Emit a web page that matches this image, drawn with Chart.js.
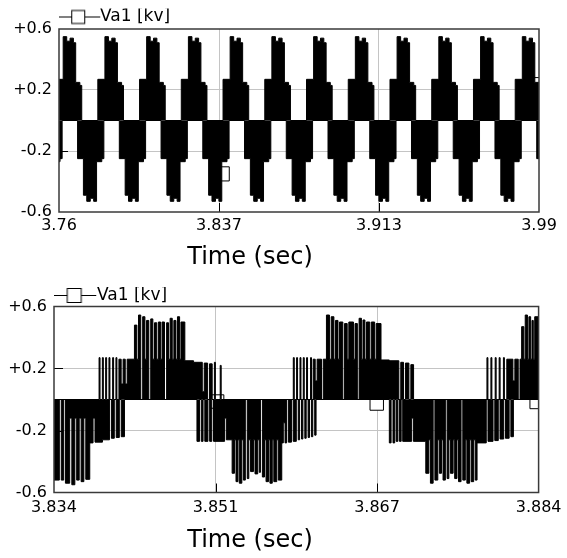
<!DOCTYPE html>
<html><head><meta charset="utf-8">
<script src="https://cdn.jsdelivr.net/npm/chart.js@4/dist/chart.umd.min.js"></script>
<style>
html,body{margin:0;padding:0;background:#fff;}
#w{position:relative;width:567px;height:558px;overflow:hidden;}
.c{position:absolute;left:0;}
</style></head><body>
<div id="w">
<div class="c" style="top:0;width:567px;height:275px"><canvas id="c1" width="567" height="275"></canvas></div>
<div class="c" style="top:275px;width:567px;height:283px"><canvas id="c2" width="567" height="283"></canvas></div>
</div>
<script>
// ---------- data ----------
const seriesName = 'Va1 [kv]';
const axisTitle = 'Time (sec)';
const yTicks = [-0.6, -0.2, 0.2, 0.6];
const yTickLabels = ['-0.6', '-0.2', '+0.2', '+0.6'];

// top panel: 3.76 .. 3.99 s
const topXTicks = [3.76, 3.83667, 3.91333, 3.99];
const topXTickLabels = ['3.76', '3.837', '3.913', '3.99'];
// upper envelope of the dense PWM pulses [t, kV]
const topUpper = [
[3.7500,0],
[3.7586,0.27],[3.7620,0.55],[3.7637,0.52],[3.7653,0.54],[3.7669,0.51],[3.7680,0.25],[3.7700,0.23],[3.7709,0],
[3.7786,0.27],[3.7820,0.55],[3.7837,0.52],[3.7853,0.54],[3.7869,0.51],[3.7880,0.25],[3.7900,0.23],[3.7909,0],
[3.7986,0.27],[3.8020,0.55],[3.8037,0.52],[3.8053,0.54],[3.8069,0.51],[3.8080,0.25],[3.8100,0.23],[3.8109,0],
[3.8186,0.27],[3.8220,0.55],[3.8237,0.52],[3.8253,0.54],[3.8269,0.51],[3.8280,0.25],[3.8300,0.23],[3.8309,0],
[3.8386,0.27],[3.8420,0.55],[3.8437,0.52],[3.8453,0.54],[3.8469,0.51],[3.8480,0.25],[3.8500,0.23],[3.8509,0],
[3.8586,0.27],[3.8620,0.55],[3.8637,0.52],[3.8653,0.54],[3.8669,0.51],[3.8680,0.25],[3.8700,0.23],[3.8709,0],
[3.8786,0.27],[3.8820,0.55],[3.8837,0.52],[3.8853,0.54],[3.8869,0.51],[3.8880,0.25],[3.8900,0.23],[3.8909,0],
[3.8986,0.27],[3.9020,0.55],[3.9037,0.52],[3.9053,0.54],[3.9069,0.51],[3.9080,0.25],[3.9100,0.23],[3.9109,0],
[3.9186,0.27],[3.9220,0.55],[3.9237,0.52],[3.9253,0.54],[3.9269,0.51],[3.9280,0.25],[3.9300,0.23],[3.9309,0],
[3.9386,0.27],[3.9420,0.55],[3.9437,0.52],[3.9453,0.54],[3.9469,0.51],[3.9480,0.25],[3.9500,0.23],[3.9509,0],
[3.9586,0.27],[3.9620,0.55],[3.9637,0.52],[3.9653,0.54],[3.9669,0.51],[3.9680,0.25],[3.9700,0.23],[3.9709,0],
[3.9786,0.27],[3.9820,0.55],[3.9837,0.52],[3.9853,0.54],[3.9869,0.51],[3.9880,0.25],[3.9900,0.23],[3.9909,0]
];
// lower envelope [t, kV]
const topLower = [
[3.7489,-0.25],[3.7517,-0.49],[3.7533,-0.53],[3.7550,-0.51],[3.7566,-0.53],[3.7580,-0.27],[3.7605,-0.25],[3.7615,0],
[3.7689,-0.25],[3.7717,-0.49],[3.7733,-0.53],[3.7750,-0.51],[3.7766,-0.53],[3.7780,-0.27],[3.7805,-0.25],[3.7815,0],
[3.7889,-0.25],[3.7917,-0.49],[3.7933,-0.53],[3.7950,-0.51],[3.7966,-0.53],[3.7980,-0.27],[3.8005,-0.25],[3.8015,0],
[3.8089,-0.25],[3.8117,-0.49],[3.8133,-0.53],[3.8150,-0.51],[3.8166,-0.53],[3.8180,-0.27],[3.8205,-0.25],[3.8215,0],
[3.8289,-0.25],[3.8317,-0.49],[3.8333,-0.53],[3.8350,-0.51],[3.8366,-0.53],[3.8380,-0.27],[3.8405,-0.25],[3.8415,0],
[3.8489,-0.25],[3.8517,-0.49],[3.8533,-0.53],[3.8550,-0.51],[3.8566,-0.53],[3.8580,-0.27],[3.8605,-0.25],[3.8615,0],
[3.8689,-0.25],[3.8717,-0.49],[3.8733,-0.53],[3.8750,-0.51],[3.8766,-0.53],[3.8780,-0.27],[3.8805,-0.25],[3.8815,0],
[3.8889,-0.25],[3.8917,-0.49],[3.8933,-0.53],[3.8950,-0.51],[3.8966,-0.53],[3.8980,-0.27],[3.9005,-0.25],[3.9015,0],
[3.9089,-0.25],[3.9117,-0.49],[3.9133,-0.53],[3.9150,-0.51],[3.9166,-0.53],[3.9180,-0.27],[3.9205,-0.25],[3.9215,0],
[3.9289,-0.25],[3.9317,-0.49],[3.9333,-0.53],[3.9350,-0.51],[3.9366,-0.53],[3.9380,-0.27],[3.9405,-0.25],[3.9415,0],
[3.9489,-0.25],[3.9517,-0.49],[3.9533,-0.53],[3.9550,-0.51],[3.9566,-0.53],[3.9580,-0.27],[3.9605,-0.25],[3.9615,0],
[3.9689,-0.25],[3.9717,-0.49],[3.9733,-0.53],[3.9750,-0.51],[3.9766,-0.53],[3.9780,-0.27],[3.9805,-0.25],[3.9815,0],
[3.9889,-0.25],[3.9917,-0.49]
];
const topMarkers = [[3.8382,-0.35],[3.9895,0.235]];

// bottom panel: 3.834 .. 3.884 s
const botXTicks = [3.834, 3.85067, 3.86733, 3.884];
const botXTickLabels = ['3.834', '3.851', '3.867', '3.884'];
// positive pulses [t, kV] (value holds until next t)
const botPos = [
[3.8330,0],
[3.83865,0.27],[3.83875,0],[3.83899,0.27],[3.83909,0],[3.83933,0.27],[3.83943,0],
[3.83967,0.27],[3.83977,0],[3.84005,0.27],[3.84015,0],[3.84039,0.27],[3.84049,0],
[3.84070,0.26],[3.84093,0.10],[3.84113,0.26],[3.84135,0.10],[3.84155,0.26],
[3.84230,0.48],[3.84255,0.26],[3.84272,0.545],[3.84295,0],[3.84315,0.534],[3.84338,0.26],
[3.84355,0.51],[3.84378,0],[3.84398,0.52],[3.84420,0.26],[3.84437,0.495],[3.84460,0.26],
[3.84477,0.50],[3.84500,0.26],[3.84515,0.50],[3.84540,0],[3.84562,0.495],[3.84582,0.26],
[3.84598,0.524],[3.84620,0.26],[3.84637,0.51],[3.84658,0.26],[3.84674,0.534],[3.84696,0.26],
[3.84710,0.50],[3.84750,0.25],[3.84840,0.24],[3.84930,0.05],[3.84950,0.235],
[3.84985,0],[3.85005,0.23],[3.85032,0],
[3.85055,0.24],[3.85065,0],[3.85115,0.22],[3.85125,0],
[3.85869,0.27],[3.85879,0],[3.85903,0.27],[3.85913,0],[3.85938,0.27],[3.85948,0],
[3.85972,0.27],[3.85982,0],[3.86006,0.27],[3.86016,0],[3.86047,0.27],[3.86057,0],
[3.86074,0.26],[3.86095,0.12],[3.86115,0.26],[3.86160,0],[3.86178,0.26],
[3.86211,0.545],[3.86242,0.26],[3.86260,0.534],[3.86288,0.26],[3.86304,0.51],[3.86330,0.26],
[3.86346,0.50],[3.86380,0],[3.86398,0.49],[3.86425,0.26],[3.86442,0.50],[3.86490,0.26],
[3.86506,0.49],[3.86530,0],[3.86548,0.524],[3.86572,0.26],[3.86588,0.513],[3.86608,0.26],
[3.86624,0.50],[3.86658,0.26],[3.86674,0.50],[3.86708,0.26],[3.86724,0.49],
[3.86774,0.255],[3.86860,0.25],[3.86958,0],[3.86978,0.24],[3.87006,0],[3.87026,0.235],
[3.87062,0],[3.87082,0.225],[3.87110,0],
[3.87867,0.27],[3.87877,0],[3.87908,0.27],[3.87918,0],[3.87952,0.27],[3.87962,0],
[3.87993,0.27],[3.88003,0],[3.88037,0.27],[3.88047,0],
[3.88072,0.26],[3.88135,0.12],[3.88155,0.26],[3.88190,0],[3.88208,0.26],
[3.88225,0.47],[3.88248,0.26],[3.88262,0.545],[3.88285,0.26],[3.88300,0.534],[3.88318,0.26],
[3.88332,0.51],[3.88345,0.26],[3.88360,0.534],[3.88420,0.53]
];
// negative pulses [t, kV]
const botNeg = [
[3.8330,-0.52],
[3.83455,0],[3.83475,-0.52],[3.83500,0],[3.83518,-0.54],[3.83562,-0.12],[3.83584,-0.55],
[3.83615,-0.12],[3.83634,-0.52],[3.83660,-0.12],[3.83680,-0.53],[3.83708,-0.12],[3.83728,-0.515],
[3.83769,-0.28],[3.83803,-0.12],[3.83823,-0.275],[3.83900,-0.26],
[3.83972,0],[3.83992,-0.25],[3.84022,0],[3.84042,-0.245],[3.84074,0],[3.84094,-0.24],[3.84127,0],
[3.84875,-0.27],[3.84902,0],[3.84920,-0.27],[3.84938,0],[3.84956,-0.27],[3.84988,0],[3.85006,-0.27],
[3.85028,0],[3.85046,-0.27],[3.85160,-0.12],[3.85178,-0.26],
[3.85238,-0.476],[3.85262,-0.26],[3.85278,-0.53],[3.85298,-0.26],[3.85312,-0.54],[3.85338,-0.26],
[3.85354,-0.52],[3.85374,0],[3.85394,-0.51],[3.85410,-0.26],[3.85428,-0.465],[3.85458,-0.26],
[3.85474,-0.48],[3.85502,-0.26],[3.85518,-0.47],[3.85530,0],[3.85550,-0.50],[3.85572,-0.26],
[3.85588,-0.53],[3.85613,-0.26],[3.85628,-0.54],[3.85652,-0.26],[3.85668,-0.53],[3.85698,-0.26],
[3.85714,-0.52],[3.85750,-0.28],[3.85766,-0.15],[3.85784,-0.28],[3.85800,0],[3.85818,-0.275],
[3.85850,0],[3.85868,-0.27],[3.85900,0],[3.85920,-0.26],[3.85934,0],[3.85954,-0.255],
[3.85968,0],[3.85988,-0.25],[3.86002,0],[3.86022,-0.245],[3.86036,0],[3.86056,-0.24],
[3.86070,0],[3.86090,-0.23],[3.86104,0],
[3.86860,-0.28],[3.86878,0],[3.86898,-0.28],[3.86915,0],[3.86930,-0.27],[3.86948,0],
[3.86964,-0.27],[3.86982,0],[3.86998,-0.27],[3.87090,-0.12],[3.87108,-0.27],
[3.87236,-0.476],[3.87268,-0.26],[3.87284,-0.54],[3.87312,0],[3.87330,-0.52],[3.87360,-0.26],
[3.87376,-0.476],[3.87398,-0.26],[3.87414,-0.52],[3.87438,0],[3.87456,-0.51],[3.87474,-0.26],
[3.87490,-0.476],[3.87518,-0.26],[3.87534,-0.51],[3.87558,-0.26],[3.87574,-0.53],[3.87600,0],
[3.87618,-0.52],[3.87644,-0.26],[3.87660,-0.54],[3.87688,-0.26],[3.87704,-0.53],[3.87730,-0.26],
[3.87746,-0.52],[3.87765,-0.28],[3.87860,0],[3.87878,-0.27],[3.87930,0],[3.87948,-0.265],
[3.87984,0],[3.88002,-0.255],[3.88040,0],[3.88058,-0.25],[3.88096,0],[3.88114,-0.24],
[3.88140,0],[3.8850,0]
];
const botMarkers = [[3.85083,-0.013],[3.8673,-0.026],[3.8838,-0.016]];

// ---------- rendering ----------
Chart.defaults.font.family = "'DejaVu Sans', sans-serif";
Chart.defaults.color = '#000';

function toXY(arr){ return arr.map(p => ({x: p[0], y: p[1]})); }

function legendIcon(side){
  const c = document.createElement('canvas');
  c.width = 52; c.height = 17;
  const g = c.getContext('2d');
  g.strokeStyle = '#000'; g.lineWidth = 1;
  g.beginPath(); g.moveTo(7, 8.5); g.lineTo(51, 8.5); g.stroke();
  g.fillStyle = '#fff';
  const x0 = 29 - side / 2, y0 = 8.5 - side / 2;
  g.fillRect(x0, y0, side, side);
  g.strokeRect(x0, y0, side, side);
  return c;
}

const framePlugin = {
  id: 'frame',
  afterDatasetsDraw(chart) {
    const {ctx, chartArea: a, scales} = chart;
    ctx.save();
    ctx.strokeStyle = '#000'; ctx.lineWidth = 1;
    ctx.beginPath();
    const xs = scales.x, ys = scales.y;
    xs.ticks.forEach((t, i) => {
      if (i === 0 || i === xs.ticks.length - 1) return;
      const px = Math.round(xs.getPixelForValue(t.value)) + 0.5;
      ctx.moveTo(px, a.bottom); ctx.lineTo(px, a.bottom - 9);
    });
    ys.ticks.forEach((t, i) => {
      if (i === 0 || i === ys.ticks.length - 1) return;
      const py = Math.round(ys.getPixelForValue(t.value)) + 0.5;
      ctx.moveTo(a.left, py); ctx.lineTo(a.left + 9, py);
    });
    ctx.stroke();
    ctx.strokeStyle = '#3a3a3a'; ctx.lineWidth = 1.5;
    ctx.strokeRect(a.left, a.top, a.right - a.left, a.bottom - a.top);
    ctx.restore();
  }
};
const captionPlugin = {
  id: 'caption',
  afterDraw(chart, args, o) {
    const {ctx, chartArea: a} = chart;
    ctx.save();
    ctx.font = "24px 'DejaVu Sans', sans-serif";
    ctx.fillStyle = '#000'; ctx.textAlign = 'center'; ctx.textBaseline = 'middle';
    ctx.fillText(o.text, a.left + o.dx, a.bottom + o.dy);
    ctx.restore();
  }
};
const legendShiftPlugin = {
  id: 'legendShift',
  afterLayout(chart, args, o) {
    const lg = chart.legend;
    if (lg) { lg.top += o.shift; lg.bottom += o.shift; }
  }
};

function makeChart(id, g) {
  const icon = legendIcon(g.iconSide);
  const nx = g.xTicks.length, ny = yTicks.length;
  return new Chart(document.getElementById(id), {
    type: 'line',
    data: {
      datasets: [
        { label: seriesName, data: toXY(g.upper), stepped: true, fill: 'origin',
          borderColor: '#000', backgroundColor: '#000', borderWidth: 1, pointRadius: 0 },
        { label: seriesName + ' (-)', data: toXY(g.lower), stepped: true, fill: 'origin',
          borderColor: '#000', backgroundColor: '#000', borderWidth: 1, pointRadius: 0 },
        { label: 'markers', data: toXY(g.markers), showLine: false, pointStyle: 'rect',
          pointRadius: g.mr, pointBorderColor: '#000', pointBackgroundColor: '#fff',
          pointBorderWidth: 1, clip: 0 }
      ]
    },
    options: {
      responsive: false, animation: false, events: [],
      layout: { padding: { left: 0, right: 567 - g.right, top: g.padTop, bottom: 0 } },
      scales: {
        x: {
          type: 'linear', min: g.xTicks[0], max: g.xTicks[nx - 1],
          afterBuildTicks: s => { s.ticks = g.xTicks.map(v => ({value: v})); },
          afterFit: s => { s.height = g.h - g.bottom; },
          ticks: { autoSkip: false, maxRotation: 0, padding: g.xPad, color: '#000',
                   font: {size: 16}, callback: (v, i) => g.xLabels[i] },
          grid: { drawTicks: false, lineWidth: 1,
                  color: c => (c.index === 0 || c.index === nx - 1) ? 'rgba(0,0,0,0)' : '#c4c4c4' },
          border: { display: false }
        },
        y: {
          type: 'linear', min: -0.6, max: 0.6,
          afterBuildTicks: s => { s.ticks = yTicks.map(v => ({value: v})); },
          afterFit: s => { s.width = g.left; },
          ticks: { padding: 7, color: '#000', font: {size: 16}, callback: (v, i) => yTickLabels[i] },
          grid: { drawTicks: false, lineWidth: 1,
                  color: c => (c.index === 0 || c.index === ny - 1) ? 'rgba(0,0,0,0)' : '#c4c4c4' },
          border: { display: false }
        }
      },
      plugins: {
        tooltip: { enabled: false },
        legend: {
          display: true, position: 'top', align: 'start', fullSize: false,
          labels: {
            usePointStyle: true, pointStyleWidth: g.boxW, padding: 0, color: '#000',
            font: { size: 17 },
            generateLabels: () => [{ text: seriesName, pointStyle: icon, fillStyle: '#fff',
              strokeStyle: '#000', lineWidth: 0, hidden: false, datasetIndex: 0, fontColor: '#000' }]
          }
        },
        legendShift: { shift: g.shift },
        caption: { text: axisTitle, dx: g.capDx, dy: g.capDy }
      }
    },
    plugins: [framePlugin, captionPlugin, legendShiftPlugin]
  });
}

makeChart('c1', { upper: topUpper, lower: topLower, markers: topMarkers, mr: 10,
  xTicks: topXTicks, xLabels: topXTickLabels, iconSide: 13,
  left: 59, right: 539, padTop: 2, shift: 6.5, h: 275, bottom: 212, xPad: 4,
  boxW: 32.5, capDx: 191, capDy: 46 });
makeChart('c2', { upper: botPos, lower: botNeg, markers: botMarkers, mr: 9.5,
  xTicks: botXTicks, xLabels: botXTickLabels, iconSide: 14,
  left: 54, right: 542, padTop: 4.5, shift: 7.5, h: 283, bottom: 217.5, xPad: 5.5,
  boxW: 34.5, capDx: 196, capDy: 48.5 });
</script>
</body></html>
